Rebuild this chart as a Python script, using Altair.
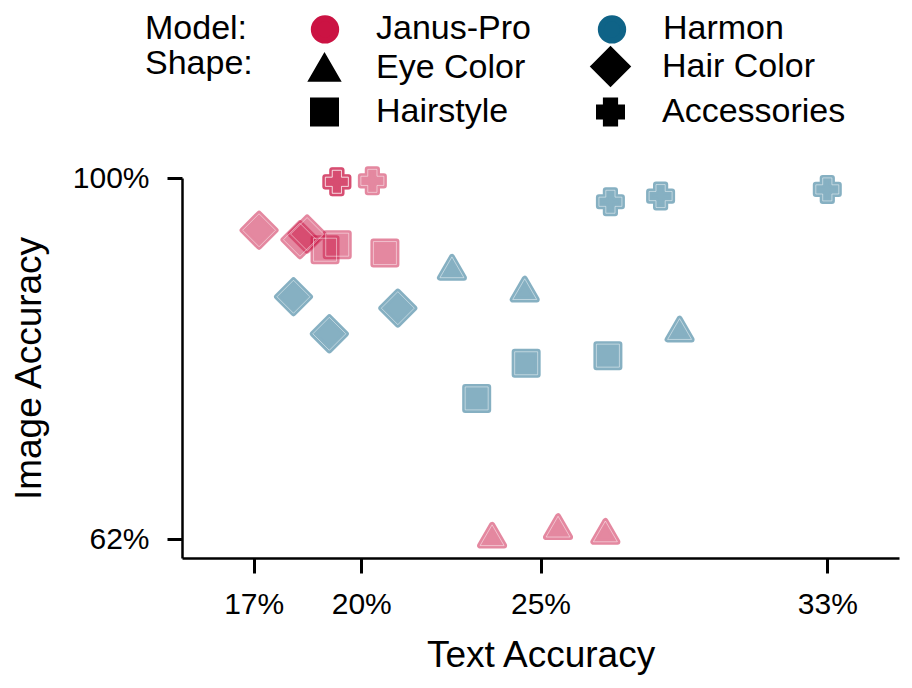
import altair as alt
import pandas as pd

# ---- data ----
models = ["Janus-Pro"] * 12 + ["Harmon"] * 12
attributes = (["Eye Color"] * 3 + ["Hair Color"] * 3 + ["Hairstyle"] * 3 + ["Accessories"] * 3) * 2
text_acc = [23.65, 25.49, 26.81, 17.15, 18.29, 18.49, 18.99, 19.33, 20.66, 19.32, 19.32, 20.31,
            22.53, 24.56, 28.88, 18.11, 19.11, 21.02, 23.22, 24.60, 26.88, 26.95, 28.35, 33.00]
image_acc = [62.4, 63.3, 62.8, 94.5, 93.5, 94.1, 92.45, 92.98, 92.1, 99.6, 99.6, 99.7,
             90.6, 88.3, 84.1, 87.5, 83.6, 86.3, 76.8, 80.5, 81.3, 97.5, 98.1, 98.8]

x_ticks = [17, 20, 25, 33]
y_ticks = [62, 100]

model_domain = ["Janus-Pro", "Harmon"]
model_colors = ["#CB1343", "#0F6387"]
attr_domain = ["Eye Color", "Hair Color", "Hairstyle", "Accessories"]
attr_shapes = ["triangle-up", "diamond", "square", "cross"]
attr_sizes = [576, 1089, 529, 529]

df = pd.DataFrame({"Model": models, "Attribute": attributes,
                   "Text": text_acc, "Image": image_acc})

FONT = "Liberation Sans"
OX, OY = 182, 178  # plot origin on page (for legend offsets)

x_enc = alt.X("Text:Q",
              scale=alt.Scale(domain=[15, 35], nice=False, zero=False),
              axis=alt.Axis(values=x_ticks, labelExpr="datum.value + '%'",
                            title="Text Accuracy", labelPadding=16, titlePadding=18))
y_enc = alt.Y("Image:Q",
              scale=alt.Scale(domain=[60, 100], nice=False, zero=False),
              axis=alt.Axis(values=y_ticks, labelExpr="datum.value + '%'",
                            title="Image Accuracy", labelPadding=18, titlePadding=24))

model_legend = alt.Legend(title="Model:", orient="none", legendX=145 - OX, legendY=-166,
                          direction="horizontal", titleAnchor="start",
                          titleOrient="left", titlePadding=60, columns=2, columnPadding=57,
                          symbolType="circle", symbolSize=500, symbolStrokeWidth=6,
                          symbolOpacity=1, labelOffset=34, padding=0, rowPadding=1)
shape_legend = alt.Legend(title="Shape:", orient="none", legendX=145 - OX, legendY=-131,
                          direction="horizontal", titleAnchor="start",
                          titleOrient="left", titlePadding=52, columns=2, columnPadding=56,
                          symbolFillColor="black", symbolStrokeColor="black",
                          symbolStrokeWidth=6, symbolOpacity=1, labelOffset=32,
                          padding=0, rowPadding=-20)

model_scale = alt.Scale(domain=model_domain, range=model_colors)
shape_scale = alt.Scale(domain=attr_domain, range=attr_shapes)
size_scale = alt.Scale(type="ordinal", domain=attr_domain, range=attr_sizes)

outer = alt.Chart(df).mark_point(filled=True, opacity=0.5, strokeWidth=6,
                                 strokeJoin="round").encode(
    x=x_enc, y=y_enc,
    fill=alt.Fill("Model:N", scale=model_scale, legend=model_legend),
    stroke=alt.Stroke("Model:N", scale=model_scale, legend=model_legend),
    shape=alt.Shape("Attribute:N", scale=shape_scale, legend=shape_legend),
    size=alt.Size("Attribute:N", scale=size_scale, legend=shape_legend),
)

inner = alt.Chart(df).mark_point(filled=False, stroke="white", strokeWidth=0.8,
                                 strokeOpacity=0.6, opacity=1).encode(
    x=x_enc, y=y_enc,
    shape=alt.Shape("Attribute:N", scale=shape_scale, legend=None),
    size=alt.Size("Attribute:N", scale=size_scale, legend=None),
)

chart = alt.layer(outer, inner).properties(
    width=717, height=380,
    autosize=alt.AutoSizeParams(type="none"),
    padding={"left": 174, "top": 170, "right": 4, "bottom": 118},
).configure_view(stroke=None).configure_axis(
    grid=False, domainColor="black", domainWidth=2.5, tickColor="black", tickWidth=3,
    tickSize=15, labelFont=FONT, labelFontSize=30, labelColor="black",
    titleFont=FONT, titleFontSize=37, titleFontWeight="normal", titleColor="black",
).configure_legend(
    labelFont=FONT, labelFontSize=34, labelColor="black", labelLimit=400,
    titleFont=FONT, titleFontSize=34, titleFontWeight="normal", titleColor="black",
    titleLimit=400,
)

chart.save("out.html", embed_options={"renderer": "svg", "actions": False})
